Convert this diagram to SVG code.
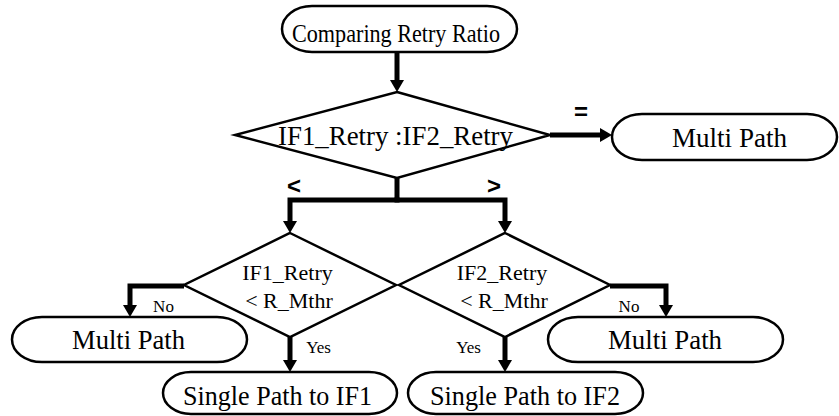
<svg xmlns="http://www.w3.org/2000/svg" width="839" height="416" viewBox="0 0 839 416">
  <style>
    .shape { fill: none; stroke: #000; stroke-width: 2.5; }
    .term { fill: #fff; stroke: #000; stroke-width: 2.5; }
    .conn { fill: none; stroke: #000; stroke-width: 5; stroke-linejoin: miter; }
    .t { font-family: "Liberation Serif", "Times New Roman", serif; fill: #000; text-anchor: middle; }
    .big { font-size: 28px; }
    .mid { font-size: 22px; }
    .small { font-size: 17px; }
    .sym { font-family: "Liberation Sans", Arial, sans-serif; font-weight: bold; font-size: 24px; text-anchor: middle; fill: #000; }
  </style>
  <defs>
    <marker id="head" markerUnits="userSpaceOnUse" markerWidth="12" markerHeight="14" refX="0" refY="7" orient="auto">
      <path d="M0,0 L12,7 L0,14 Z" fill="#000"/>
    </marker>
  </defs>
  <rect width="839" height="416" fill="#fff"/>

  <!-- connectors -->
  <g id="connectors">
    <path class="conn" d="M397,51 V80" marker-end="url(#head)"/>
    <path class="conn" d="M550,135 H600" marker-end="url(#head)"/>
    <path class="conn" d="M397,178 V200"/>
    <path class="conn" d="M399.5,200 H290 V221" marker-end="url(#head)"/>
    <path class="conn" d="M394.5,200 H505 V221" marker-end="url(#head)"/>
    <path class="conn" d="M184,286 H130 V305" marker-end="url(#head)"/>
    <path class="conn" d="M290,337 V360" marker-end="url(#head)"/>
    <path class="conn" d="M610,286 H666 V305" marker-end="url(#head)"/>
    <path class="conn" d="M505,337 V360" marker-end="url(#head)"/>
    <text class="sym" x="581" y="120">=</text>
    <text class="sym" x="294" y="194">&lt;</text>
    <text class="sym" x="494" y="194">&gt;</text>
    <text class="t small" x="163.5" y="312">No</text>
    <text class="t small" x="629" y="312">No</text>
    <text class="t small" x="318.5" y="353">Yes</text>
    <text class="t small" x="468.5" y="353">Yes</text>
  </g>

  <g id="start">
    <rect class="term" x="282" y="6" width="235" height="46" rx="30" ry="23"/>
    <text class="t" x="396" y="42" font-size="25" textLength="208" lengthAdjust="spacingAndGlyphs">Comparing Retry Ratio</text>
  </g>

  <g id="compare">
    <polygon class="shape" points="397,92 550,135 397,178 235,135"/>
    <text class="t" x="395.5" y="145" font-size="28" textLength="235" lengthAdjust="spacingAndGlyphs">IF1_Retry :IF2_Retry</text>
  </g>

  <g id="multi-equal">
    <rect class="term" x="612" y="114" width="225" height="46" rx="30" ry="23"/>
    <text class="t big" x="729.5" y="147" textLength="115" lengthAdjust="spacingAndGlyphs">Multi Path</text>
  </g>

  <g id="check-if1">
    <polygon class="shape" points="290,233 396,285 290,337 184,285"/>
    <text class="t mid" x="287.5" y="280">IF1_Retry</text>
    <text class="t mid" x="289" y="308">&lt; R_Mthr</text>
  </g>

  <g id="check-if2">
    <polygon class="shape" points="505,233 610,285 505,337 399,285"/>
    <text class="t mid" x="502" y="280">IF2_Retry</text>
    <text class="t mid" x="504" y="308">&lt; R_Mthr</text>
  </g>

  <g id="multi-left">
    <rect class="term" x="12" y="317" width="235" height="45" rx="30" ry="22.5"/>
    <text class="t big" x="128.5" y="349" textLength="113" lengthAdjust="spacingAndGlyphs">Multi Path</text>
  </g>

  <g id="multi-right">
    <rect class="term" x="548" y="317" width="235" height="45" rx="30" ry="22.5"/>
    <text class="t big" x="665" y="349" textLength="114" lengthAdjust="spacingAndGlyphs">Multi Path</text>
  </g>

  <g id="single-if1">
    <rect class="term" x="163" y="372" width="234" height="42" rx="28" ry="21"/>
    <text class="t big" x="277.5" y="405" textLength="189" lengthAdjust="spacingAndGlyphs">Single Path to IF1</text>
  </g>

  <g id="single-if2">
    <rect class="term" x="408" y="372" width="235" height="42" rx="28" ry="21"/>
    <text class="t big" x="525" y="405" textLength="190" lengthAdjust="spacingAndGlyphs">Single Path to IF2</text>
  </g>
</svg>
